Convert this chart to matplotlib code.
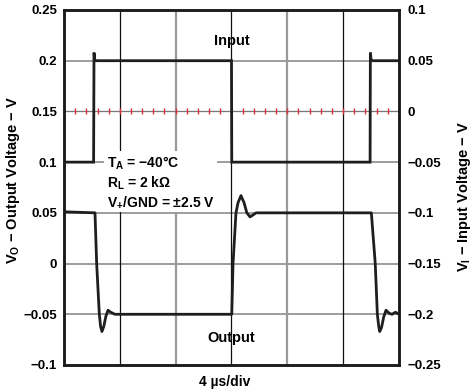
import numpy as np
import matplotlib
matplotlib.use("Agg")
import matplotlib.pyplot as plt

plt.rcParams['font.family'] = ['Liberation Sans', 'DejaVu Sans']
plt.rcParams['font.weight'] = 'bold'
plt.rcParams['mathtext.fontset'] = 'custom'
plt.rcParams['mathtext.rm'] = 'Liberation Sans:bold'
plt.rcParams['mathtext.bf'] = 'Liberation Sans:bold'
plt.rcParams['mathtext.it'] = 'Liberation Sans:bold'

# time in microseconds (6 divisions of 4 us)
t_in = [0.1, 2.12, 2.15, 2.2, 2.3, 12.0, 12.02, 21.93, 21.95, 22.0, 22.1, 24.0]
v_in = [-0.05, -0.05, 0.058, 0.051, 0.05, 0.05, -0.05, -0.05, 0.058, 0.051, 0.05, 0.05]

t_out = [0.1, 2.22, 2.34, 2.53, 2.62, 2.72, 2.85, 3.0, 3.15, 3.35, 3.65,
         12.02, 12.11, 12.32, 12.47, 12.68, 12.9, 13.1, 13.33, 13.55, 13.76,
         22.02, 22.3, 22.45, 22.55, 22.62, 22.75, 22.9, 23.07, 23.3, 23.5, 23.75, 24.0]
v_out = [0.051, 0.05, 0.0, -0.05, -0.062, -0.067, -0.062, -0.052, -0.046, -0.048, -0.05,
         -0.05, 0.0, 0.05, 0.06, 0.067, 0.06, 0.05, 0.046, 0.048, 0.05,
         0.05, 0.0, -0.05, -0.062, -0.067, -0.063, -0.053, -0.046, -0.049, -0.05, -0.048, -0.05]

left_ticks = [-0.1, -0.05, 0, 0.05, 0.1, 0.15, 0.2, 0.25]
left_labels = ["\u22120.1", "\u22120.05", "0", "0.05", "0.1", "0.15", "0.2", "0.25"]
right_ticks = [-0.25, -0.2, -0.15, -0.1, -0.05, 0, 0.05, 0.1]
right_labels = ["\u22120.25", "\u22120.2", "\u22120.15", "\u22120.1", "\u22120.05", "0", "0.05", "0.1"]
div_lines = [4, 8, 12, 16, 20]

fig = plt.figure(figsize=(4.72, 3.92), dpi=100)
ax = fig.add_axes([0.1356, 0.0689, 0.7097, 0.9056])
ax2 = ax.twinx()

ax.set_xlim(0, 24)
ax.set_ylim(-0.1, 0.25)
ax2.set_ylim(-0.25, 0.1)

# grid
for y in [-0.05, 0.0, 0.05, 0.1, 0.2]:
    ax.axhline(y, color='#8c8c8c', lw=1.2, zorder=1)
for i, x in enumerate(div_lines):
    if i % 2 == 0:
        ax.axvline(x, color='#111111', lw=0.9, zorder=1)
    else:
        ax.axvline(x, color='#999999', lw=1.6, zorder=1)
# centre line with red minor ticks
ax.axhline(0.15, color='#777777', lw=0.9, zorder=1)
minor = np.arange(0.8, 24, 0.8)
ax.plot(minor, np.full(len(minor), 0.15), ls='none', marker='|', ms=4.5,
        mew=1.0, color='#e0303a', zorder=1.5)

ax2.plot(t_in, v_in, color='#1e1e1e', lw=2.0, zorder=3, solid_joinstyle='miter')
ax.plot(t_out, v_out, color='#1e1e1e', lw=2.0, zorder=3)

ax.set_xticks([])
ax.set_yticks(left_ticks)
ax.set_yticklabels(left_labels, fontsize=9.5, fontweight='bold')
ax2.set_yticks(right_ticks)
ax2.set_yticklabels(right_labels, fontsize=9.5, fontweight='bold')
ax.tick_params(axis='y', length=0, pad=5)
ax2.tick_params(axis='y', length=0, pad=6)

for a in (ax, ax2):
    for s in a.spines.values():
        s.set_linewidth(1.8)
        s.set_color('#1a1a1a')

ax.set_ylabel("V$_\\mathbf{O}$ \u2212 Output Voltage \u2212 V", fontsize=10.5,
              fontweight='bold')
ax.yaxis.set_label_coords(-0.125, 0.521)
ax2.set_ylabel("V$_\\mathbf{I}$ \u2212 Input Voltage \u2212 V", fontsize=10.5,
               fontweight='bold', rotation=90)
ax2.yaxis.set_label_coords(1.166, 0.473)
ax.set_xlabel("4 \u00b5s/div", fontsize=10, fontweight='bold')
ax.xaxis.set_label_coords(0.48, -0.048)
ax.xaxis.label.set_va('center')

ax.text(12.0, 0.2195, "Input", ha='center', va='center', fontsize=10.5,
        fontweight='bold', zorder=5)
ax.text(12.0, -0.073, "Output", ha='center', va='center', fontsize=10.5,
        fontweight='bold', zorder=5)
ax.text(3.05, 0.1075,
        "T$_\\mathbf{A}$ = \u221240\u00b0C\nR$_\\mathbf{L}$ = 2 k\u03a9\nV$_\\mathbf{+}$/GND = \u00b12.5 V",
        ha='left', va='top', fontsize=10, fontweight='bold', linespacing=1.2,
        zorder=4, bbox=dict(facecolor='white', edgecolor='none', pad=1.5))

fig.savefig("out.png", dpi=100)
